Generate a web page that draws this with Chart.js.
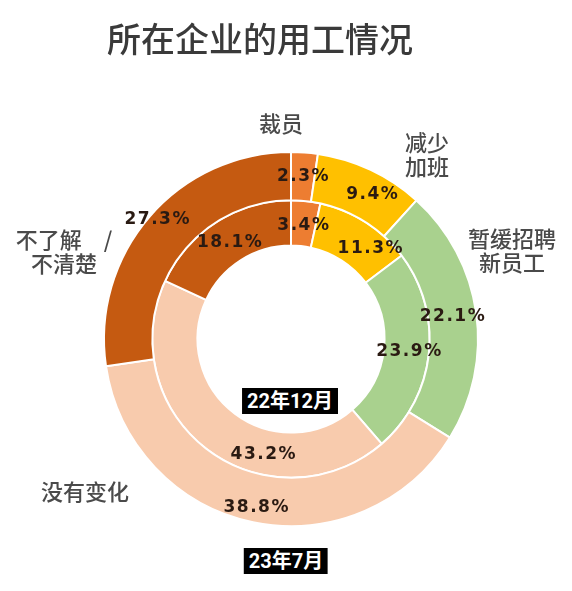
<!DOCTYPE html>
<html>
<head>
<meta charset="utf-8">
<script src="https://cdn.jsdelivr.net/npm/chart.js@4.4.1/dist/chart.umd.min.js"></script>
<style>
  html, body { margin: 0; padding: 0; background: #fff; }
  #wrap { position: relative; width: 572px; height: 591px; overflow: hidden; }
  #wrap canvas { position: absolute; left: 0; top: 0; }
  .t { position: absolute; transform: translate(-50%, -50%); white-space: pre; text-align: center;
       font-family: "Noto Sans CJK SC", "Noto Sans", sans-serif; color: #454545; }
  .title { font-size: 34px; font-weight: 500; color: #3a3a3a; }
  .cat { font-size: 22px; line-height: 24px; font-weight: 500; color: #4a4a4a; }
  .box { background: #000; color: #fff; font-family: "Liberation Sans Narrow", "Roboto", "Noto Sans CJK SC", sans-serif;
         font-weight: 700; font-size: 20px; line-height: 26px; padding: 0 5px; }
</style>
</head>
<body>
<div id="wrap">
  <canvas id="c"></canvas>
  <div class="t title" style="left:260px; top:37px;">所在企业的用工情况</div>
  <div class="t cat" style="left:281px; top:122px;">裁员</div>
  <div class="t cat" style="left:427px; top:153px;">减少
加班</div>
  <div class="t cat" style="left:512px; top:249px;">暂缓招聘
新员工</div>
  <div class="t cat" style="left:64px; top:250px;">不了解　/
不清楚</div>
  <div class="t cat" style="left:85px; top:490px;">没有变化</div>
  <div class="t box" style="left:290px; top:401px;">22年12月</div>
  <div class="t box" style="left:286px; top:561px;">23年7月</div>
</div>
<script>
// ---- data ----
const categories = ['裁员', '减少加班', '暂缓招聘新员工', '没有变化', '不了解/不清楚'];
const periods = ['23年7月', '22年12月'];
const jul23 = [2.3, 9.4, 22.1, 38.8, 27.3];   // outer ring
const dec22 = [3.4, 11.3, 23.9, 43.2, 18.1];  // inner ring
const colors = ['#ED7D31', '#FFC000', '#A9D18E', '#F8CBAD', '#C55A11'];

// label placement within each arc (fraction along angle, fraction across ring)
const labelPlace = [
  { a: [0.5, 0.62, 0.5, 0.5, 0.51], r: [0.5, 0.56, 0.5, 0.7, 0.85] },
  { a: [0.5, 0.71, 0.5, 0.35, 0.5], r: [0.45, 0.59, 0.55, 0.56, 0.46] }
];

const pctLabels = {
  id: 'pctLabels',
  afterDatasetsDraw(chart) {
    const ctx = chart.ctx;
    const ls = 1.5;
    ctx.save();
    ctx.font = 'bold 17px "DejaVu Sans", Verdana, sans-serif';
    try { ctx.letterSpacing = ls + 'px'; } catch (e) {}
    ctx.fillStyle = '#2a1a12';
    ctx.textAlign = 'center';
    ctx.textBaseline = 'middle';
    chart.data.datasets.forEach((ds, di) => {
      const meta = chart.getDatasetMeta(di);
      meta.data.forEach((arc, i) => {
        const p = arc.getProps(['x', 'y', 'startAngle', 'endAngle', 'innerRadius', 'outerRadius'], true);
        const ang = p.startAngle + labelPlace[di].a[i] * (p.endAngle - p.startAngle);
        const rad = p.innerRadius + labelPlace[di].r[i] * (p.outerRadius - p.innerRadius);
        const txt = ds.data[i].toFixed(1) + '%';
        ctx.fillText(txt, p.x + rad * Math.cos(ang) + ls / 2, p.y + rad * Math.sin(ang));
      });
    });
    ctx.restore();
  }
};

new Chart(document.getElementById('c'), {
  type: 'doughnut',
  data: {
    labels: categories,
    datasets: [
      { label: periods[0], data: jul23, backgroundColor: colors, borderColor: '#ffffff', borderWidth: 2, weight: 1.07 },
      { label: periods[1], data: dec22, backgroundColor: colors, borderColor: '#ffffff', borderWidth: 2, weight: 1 }
    ]
  },
  options: {
    responsive: true,
    maintainAspectRatio: false,
    animation: false,
    cutout: '50%',
    layout: { padding: { left: 103, right: 93, top: 151, bottom: 64 } },
    plugins: {
      legend: { display: false },
      tooltip: { enabled: false },
      title: { display: false }
    }
  },
  plugins: [pctLabels]
});
</script>
<style>#c { width: 572px !important; height: 591px !important; }</style>
</body>
</html>
